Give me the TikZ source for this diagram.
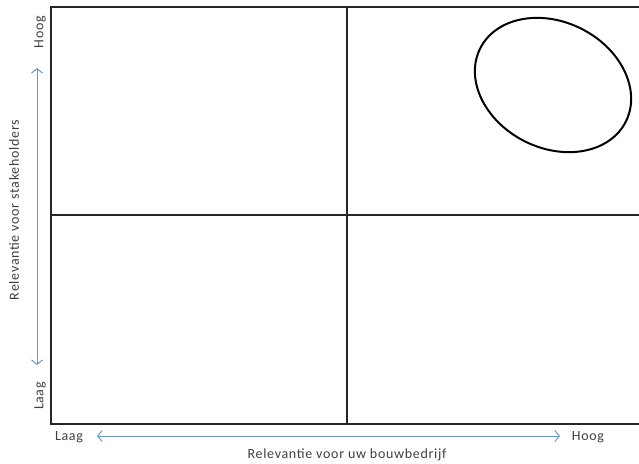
\documentclass[tikz,border=0pt]{standalone}
\usepackage{fontspec}
\setmainfont{Carlito}[LetterSpace=5]
\usetikzlibrary{arrows.meta}
\definecolor{arrowblue}{HTML}{6F95C8}
\definecolor{txt}{HTML}{404040}
\tikzset{
  gridline/.style={draw=black!85, line width=1.3pt},
  lbl/.style={font=\fontsize{14}{16}\selectfont, text=txt, inner sep=0pt},
  axisarrow/.style={draw=arrowblue, line width=1pt, {Straight Barb[length=4.5pt,width=11pt]}-{Straight Barb[length=4.5pt,width=11pt]}},
}
\begin{document}
\begin{tikzpicture}[x=1pt,y=1pt]
\useasboundingbox (0,0) rectangle (639,463);
% box and quadrant lines
\draw[gridline] (642,456) -- (51,456) -- (51,39) -- (642,39);
\coordinate (vt) at (347,456);
\coordinate (vb) at (347,39);
\coordinate (hl) at (51,248);
\coordinate (hr) at (642,248);
\draw[gridline] (vt) -- (vb);
\draw[gridline] (hl) -- (hr);
% ellipse
\draw[black, line width=2pt, rotate around={-26.7:(553,378)}] (553,378) ellipse [x radius=81.5, y radius=63];
% labels
\node[lbl] (xlow) at (69,26) {Laag};
\node[lbl] (xhigh) at (588,26) {Hoog};
\node[lbl] (xlabel) at (347,8) {Relevantie voor uw bouwbedrijf};
\node[lbl, rotate=90] (yhighlbl) at (40,431) {Hoog};
\node[lbl, rotate=90] (ylowlbl) at (40,67) {Laag};
\node[lbl, rotate=90] (ylabel) at (14,253) {Relevantie voor stakeholders};
% arrows
\coordinate (ha) at (97,27);
\coordinate (hb) at (560,27);
\coordinate (va) at (37,395);
\coordinate (vb2) at (37,98);
\draw[axisarrow] (ha) -- (hb);
\draw[axisarrow] (va) -- (vb2);
\end{tikzpicture}
\end{document}
